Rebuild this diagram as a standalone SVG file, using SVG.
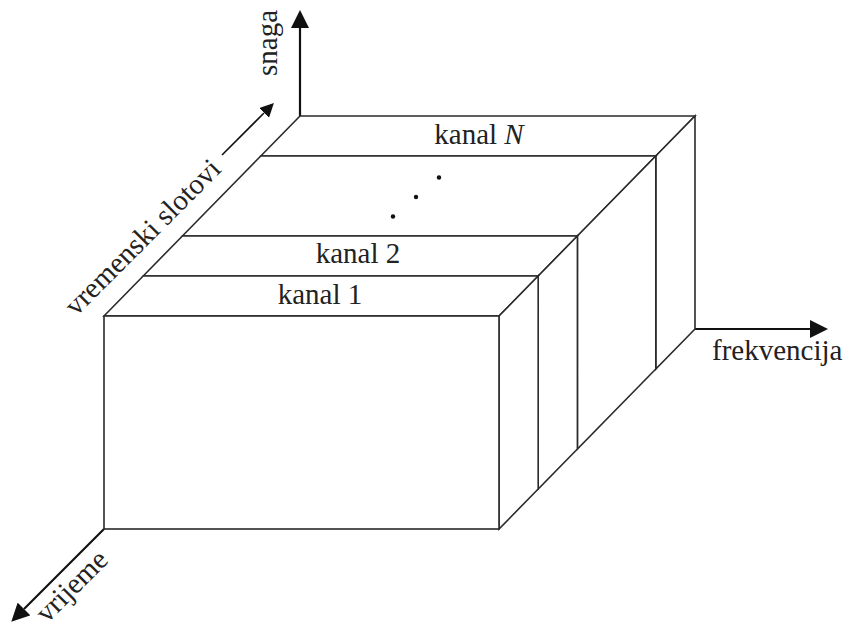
<svg xmlns="http://www.w3.org/2000/svg" width="846" height="629" viewBox="0 0 846 629">
<style>
.face{fill:#fff;stroke:#2a2a2a;stroke-width:1.6;stroke-linejoin:miter}
.axis{fill:none;stroke:#111;stroke-width:2.2}
.thin{fill:none;stroke:#111;stroke-width:1.6}
.lbl{font-family:'Liberation Serif',serif;font-size:29px;fill:#222}
.mid{text-anchor:middle}
.dot{fill:#111}
</style>
<defs>
<marker id="ah" viewBox="0 0 18 18" refX="0" refY="9" markerWidth="18" markerHeight="18" markerUnits="userSpaceOnUse" orient="auto">
<path d="M0,0 L18,9 L0,18 z" fill="#111"/>
</marker>
<marker id="ahs" viewBox="0 0 14 14" refX="0" refY="7" markerWidth="14" markerHeight="14" markerUnits="userSpaceOnUse" orient="auto">
<path d="M0,0 L14,7 L0,14 z" fill="#111"/>
</marker>
</defs>
<g id="connectors">
<line class="axis" x1="300" y1="116" x2="300" y2="28" marker-end="url(#ah)"/>
<line class="axis" x1="695" y1="329" x2="810" y2="329" marker-end="url(#ah)"/>
<line class="axis" x1="104" y1="529" x2="24" y2="609" marker-end="url(#ah)"/>
<line class="thin" x1="222" y1="155" x2="264" y2="113" marker-end="url(#ahs)"/>
</g>
<g id="chN">
<polygon class="face" points="260.8,156 300,116 695,116 655.8,156"/>
<polygon class="face" points="655.8,156 695,116 695,329 655.8,369"/>
<text class="lbl mid" font-family="Liberation Serif, serif" x="479" y="144">kanal <tspan font-style="italic">N</tspan></text>
</g>
<g id="chMid">
<polygon class="face" points="182.4,236 260.8,156 655.8,156 577.4,236"/>
<polygon class="face" points="577.4,236 655.8,156 655.8,369 577.4,449"/>
<circle class="dot" cx="393" cy="216.5" r="2.2"/>
<circle class="dot" cx="416" cy="197" r="2.2"/>
<circle class="dot" cx="439" cy="177.5" r="2.2"/>
</g>
<g id="ch2">
<polygon class="face" points="143.2,276 182.4,236 577.4,236 538.2,276"/>
<polygon class="face" points="538.2,276 577.4,236 577.4,449 538.2,489"/>
<text class="lbl mid" font-family="Liberation Serif, serif" x="358" y="263">kanal 2</text>
</g>
<g id="ch1">
<polygon class="face" points="104,316 143.2,276 538.2,276 499,316"/>
<polygon class="face" points="499,316 538.2,276 538.2,489 499,529"/>
<rect class="face" x="104" y="316" width="395" height="213"/>
<text class="lbl mid" font-family="Liberation Serif, serif" x="320" y="304">kanal 1</text>
</g>
<g id="labels">
<text class="lbl" font-family="Liberation Serif, serif" transform="translate(277,76) rotate(-90)">snaga</text>
<text class="lbl" font-family="Liberation Serif, serif" x="712" y="360">frekvencija</text>
<text class="lbl" font-family="Liberation Serif, serif" transform="translate(76,317) rotate(-45)">vremenski slotovi</text>
<text class="lbl" font-family="Liberation Serif, serif" transform="translate(47,624) rotate(-45)">vrijeme</text>
</g>
</svg>
